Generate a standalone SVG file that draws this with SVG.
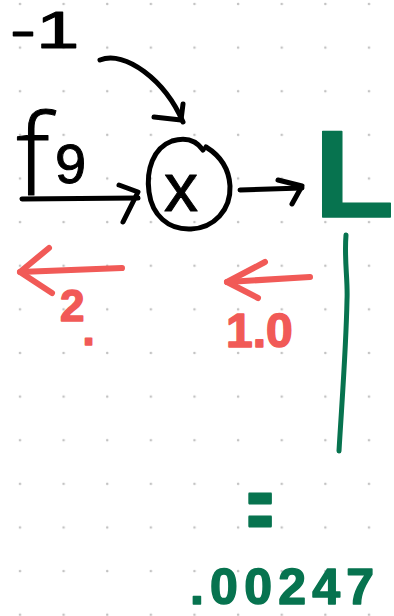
<svg xmlns="http://www.w3.org/2000/svg" width="394" height="616" viewBox="0 0 394 616">
<defs>
<pattern id="dots" x="0" y="0" width="43.625" height="43.625" patternUnits="userSpaceOnUse">
<circle cx="20" cy="4" r="1.3" fill="#c2c2c2"/>
</pattern>
<style>
.ink{fill:none;stroke-linecap:round;stroke-linejoin:round}
.blk{stroke:#000;stroke-width:5}
.red{stroke:#f15a57;stroke-width:6}
.grn{stroke:#07734f}
.t{font-family:"Liberation Sans",Arial,sans-serif;stroke-linejoin:round;stroke-linecap:round}
.tl{font-family:"Open Sans","Liberation Sans",sans-serif;font-weight:300}
.tb{fill:#000;stroke:#000;stroke-width:1}
.tr{fill:#f15a57;stroke:#f15a57;stroke-width:1.5;font-weight:bold}
.tg{fill:#07734f;stroke:#07734f;stroke-width:1.5;font-weight:bold}
</style>
</defs>
<rect width="394" height="616" fill="#fff"/>
<rect width="394" height="616" fill="url(#dots)"/>

<g id="node-minus1">
<text class="t tb" transform="translate(10,48) scale(1.5,1)" font-size="52">-1</text>
</g>

<g id="node-f9">
<text class="t tl tb" x="16" y="195" font-size="112" stroke-width="1.5">f</text>
<text class="t tb" x="55" y="183" font-size="56" stroke-width="2">9</text>
</g>

<g id="node-mul">
<path class="ink blk" d="M203,150 C196,140 185,137 172,141 C153,148 146,170 149,192 C152,215 168,230 191,229 C214,228 231,210 230,186 C229,168 219,155 206,147"/>
<text class="t tb" x="181" y="211" font-size="68" text-anchor="middle" stroke-width="1.5">x</text>
</g>

<g id="node-L">
<path class="ink blk" d="M337,148 L338,168" stroke-width="4"/>
<text class="t tg" transform="translate(314,217) scale(1.06,1)" font-size="124" font-weight="normal" stroke-width="1">L</text>
</g>

<g id="grad-2">
<text class="t tr" x="60" y="321" font-size="44">2<tspan dx="-2" dy="24">.</tspan></text>
</g>

<g id="grad-1">
<text class="t tr" x="226" y="347" font-size="48">1.0</text>
</g>

<g id="result">
<text class="t tg" transform="translate(260,538) scale(1,1.9)" font-size="44" text-anchor="middle" stroke-width="1">=</text>
<text class="t tg" x="190" y="604" font-size="50" textLength="184" lengthAdjust="spacing">.00247</text>
</g>

<g id="connectors">
<path class="ink blk" d="M100,60 C125,50 165,80 183,122"/>
<path class="ink blk" d="M154,117 L181,120 L183,104"/>
<path class="ink blk" d="M22,199 L138,198"/>
<path class="ink blk" d="M119,185 L138,192 L123,222"/>
<path class="ink blk" d="M240,190 L302,188"/>
<path class="ink blk" d="M278,180 L302,186 L292,204"/>
<path class="ink grn" stroke-width="5" d="M346,235 C344,260 348,280 347,300 C346,350 342,400 339,451"/>
<path class="ink red" d="M122,268 L20,272"/>
<path class="ink red" d="M49,248 L20,272 L52,293"/>
<path class="ink red" d="M310,277 L227,282"/>
<path class="ink red" d="M265,262 L227,282 L258,298"/>
</g>
</svg>
